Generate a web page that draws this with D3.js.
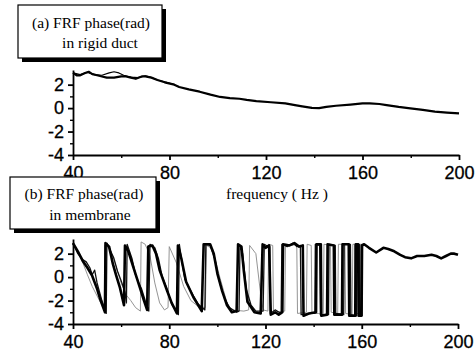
<!DOCTYPE html>
<html>
<head>
<meta charset="utf-8">
<script src="https://cdn.jsdelivr.net/npm/d3@7"></script>
<style>
  body { margin: 0; background: #fff; }
  svg { display: block; }
  .axis path, .axis line { stroke: #000; stroke-width: 1.8; }
  .axis text { font-family: "Liberation Sans", Arial, sans-serif; font-size: 18px; fill: #000; stroke: #000; stroke-width: 0.3; }
  .minor line { stroke-width: 1.4; }
  .lbl { font-family: "Liberation Serif", "Times New Roman", serif; fill: #000; }
</style>
</head>
<body>
<div id="drawing"></div>
<script>
// tick values
var xMajor = [40, 80, 120, 160, 200],
    xMinor = [60, 100, 140, 180],
    yMajor = [-4, -2, 0, 2],
    yMinor = [-3, -1, 1];

// (a) rigid duct, [freq, phase]
var rigidA = [[40,3.0],[41.5,2.8],[43,2.8],[45,3.0],[46.5,3.1],[48,2.9],[50,2.8],[52,2.7],[54,2.6],[57,2.6],[60,2.7],[62,2.7],[64,2.6],[66,2.5],[68.5,2.7],[70,2.7],[72.5,2.6],[75,2.4],[78,2.2],[82,2.0],[84,1.8],[88,1.6],[92.5,1.4],[97,1.15],[101,0.95],[105,0.85],[109,0.8],[112,0.7],[116,0.6],[122,0.5],[128,0.4],[132,0.25],[135,0.15],[139,0.02],[142,0.0],[145,0.1],[149,0.2],[155,0.3],[160,0.4],[163,0.4],[167,0.35],[170,0.25],[175,0.1],[179,0.0],[185,-0.15],[190,-0.3],[195,-0.38],[200,-0.45]];
var rigidB = [[40,3.0],[43,2.85],[46,3.05],[49,2.85],[52,2.8],[55,3.0],[57,3.1],[59,3.0],[61,2.8],[64,2.65],[67,2.6],[70,2.75],[72,2.65],[75,2.4],[78,2.25],[82,2.0]];

// (b) membrane, [freq, phase]
var memA = [[40,2.9],[42,2.2],[44,1.4],[46,0.8],[48,0.1],[50,-1.0],[51.5,-2.0],[53.3,-3.0],[53.5,2.9],[55,2.6],[56.6,1.1],[58,0.1],[59.5,-0.9],[61.2,-2.4],[61.6,2.7],[63,2.2],[65,0.9],[67.8,-0.9],[69.5,-2.0],[70.8,-2.8],[71.3,2.6],[73,2.7],[74.5,2.0],[76,0.6],[79,-1.1],[81,-2.2],[83.2,-3.1],[83.6,2.7],[85,1.6],[87,-0.4],[90,-1.7],[93.5,-2.9],[94.3,2.8],[97,2.8],[98.5,2.0],[100,0.3],[102,-1.2],[104,-2.4],[106,-3.0],[108,-2.9],[108.6,2.8],[110,2.6],[111,0.5],[112.5,-2.1],[115.4,-3.0],[118,-3.1],[118.8,2.8],[120,2.5],[121.5,2.7],[122.2,-3.2],[124,-3.0],[125.5,-3.2],[127,-3.0],[127.3,2.8],[130,2.7],[132,2.9],[134,2.6],[135.5,2.7],[135.8,-3.3],[138,-3.1],[141,-3.0],[141.2,2.8],[143,2.8],[143.2,-3.3],[145.6,-3.2],[145.8,2.8],[148.4,2.7],[148.6,-3.2],[151.8,-3.2],[152,2.8],[154.6,2.8],[154.8,-3.3],[157.3,-3.3],[157.5,2.8],[158.5,2.8],[158.7,-3.3],[159.8,-3.3],[160,2.7],[161,2.8],[163,2.5],[166,2.1],[169,2.5],[171,2.4],[173.5,2.2],[176,1.9],[178,1.7],[180.5,1.6],[183,1.8],[186,1.8],[189,1.9],[191,1.8],[193,1.6],[195,1.8],[197,2.0],[198.5,2.0],[200,1.9]];
var memB = [[40,2.9],[42,2.0],[44,1.5],[45.5,1.3],[47,0.8],[48,0.2],[49,0.6],[50,-0.5],[52,-2.0],[53.8,-3.1],[54.1,2.9],[55.5,2.3],[57,1.6],[58.5,0.5],[60,-0.3],[61.5,-1.2],[62.2,-2.2],[62.5,2.8],[64.5,1.6],[66,0.2],[67.5,-0.6],[68.5,-1.0],[70,-2.0],[71.5,-2.9],[72,2.8],[74,2.5],[75.5,1.6],[77,0.1],[79,-1.0],[81,-2.3],[83.8,-3.2],[84.2,2.8],[85.5,1.0],[86.5,-0.2],[88,-0.8],[90,-1.6],[92,-2.3],[94.8,-2.8],[95.2,2.8],[97,2.7],[99,1.5],[101,-0.5],[103,-1.8],[105,-2.6],[108,-3.0],[109,-2.9],[109.4,2.7],[110.5,2.0],[112,-1.0],[114,-2.4],[116,-2.9],[119,-2.9],[119.5,2.8],[121,2.6],[121.8,2.6],[122.0,-3.1],[124,-2.8],[126.5,-3.1],[126.8,2.8],[129,2.6],[131.5,2.9],[133,2.6],[134.5,2.7],[134.8,-3.2],[139,-3.1],[140.5,-3.1],[140.7,2.8],[142.5,2.7],[142.8,-3.2],[146.2,-3.2],[146.4,2.8],[149,2.7],[149.2,-3.1],[152.5,-3.2],[152.7,2.8],[155.3,2.8],[155.5,-3.2],[157.8,-3.3],[158,2.8],[159,2.8],[159.2,-3.3],[160.2,-3.3],[160.4,2.7],[161,2.8]];
var memC = [[40,2.8],[43,1.8],[46,0.2],[48,-0.8],[51,-2.0],[53,-2.7],[53.2,2.7],[55,2.5],[57,1.5],[60,-0.5],[62,-1.5],[64,-2.0],[66,-2.6],[68,-2.9],[68.3,3.0],[70,2.8],[72,1.8],[74,-0.5],[76,-2.2],[78,-2.8],[79.5,-2.6],[80,2.6],[83,1.2],[86,-0.8],[89,-2.0],[92,-2.5],[95,-2.6],[95.5,2.7],[98,2.4],[101,0.0],[104,-2.2],[106,-2.8],[111,-2.9],[113,-2.8],[113.4,2.7],[116,2.0],[118,-1.5],[119,-2.8],[121,-2.9],[121.3,2.8],[123,2.7],[123.3,-3.0],[128,-2.9],[128.3,2.8],[131,2.7],[133,2.8],[133.3,-3.1],[137,-3.0],[137.3,2.8],[139,2.7],[139.3,-3.1],[142,-3.1],[144,-3.2],[144.3,2.8],[147,2.7],[147.3,-3.0],[150,-3.1],[150.3,2.8],[153,2.8],[153.3,-3.1],[156,-3.2],[156.3,2.8],[157,2.8],[157.2,-3.1],[159,-3.1],[159.3,2.8],[161,2.8]];

var W = 476, H = 357;

var svg = d3.select("#drawing")
  .append("svg")
  .attr("width", W)
  .attr("height", H);

svg.append("rect").attr("width", W).attr("height", H).attr("fill", "#fff");

function panel(x0, x1, yBot, yTop, series) {
  var x = d3.scaleLinear().domain([40, 200]).range([x0, x1]);
  var y = d3.scaleLinear().domain([-4, 3.25]).range([yBot, yTop]);

  var line = d3.line()
    .x(function(d) { return x(d[0]); })
    .y(function(d) { return y(d[1]); });

  series.forEach(function(s) {
    svg.append("path")
      .datum(s.data)
      .attr("fill", "none")
      .attr("stroke", s.color)
      .attr("stroke-width", s.w)
      .attr("stroke-linejoin", "round")
      .attr("d", line);
  });

  // minor ticks first, then the labelled axes
  svg.append("g")
    .attr("class", "axis minor")
    .attr("transform", "translate(0," + yBot + ")")
    .call(d3.axisBottom(x).tickValues(xMinor).tickSize(3).tickSizeOuter(0).tickFormat(""))
    .select(".domain").remove();
  svg.append("g")
    .attr("class", "axis minor")
    .attr("transform", "translate(" + x0 + ",0)")
    .call(d3.axisLeft(y).tickValues(yMinor).tickSize(3).tickSizeOuter(0).tickFormat(""))
    .select(".domain").remove();

  svg.append("g")
    .attr("class", "axis")
    .attr("transform", "translate(0," + yBot + ")")
    .call(d3.axisBottom(x).tickValues(xMajor).tickSize(5).tickSizeOuter(0).tickPadding(6)
      .tickFormat(function(d) { return String(d); }));
  svg.append("g")
    .attr("class", "axis")
    .attr("transform", "translate(" + x0 + ",0)")
    .call(d3.axisLeft(y).tickValues(yMajor).tickSize(5).tickSizeOuter(0).tickPadding(4)
      .tickFormat(function(d) { return String(d); }));
}

panel(73, 459, 155, 70, [
  {data: rigidB, color: "#000", w: 1.2},
  {data: rigidA, color: "#000", w: 2.2}
]);

panel(73, 458, 324, 239, [
  {data: memC, color: "#888", w: 0.9},
  {data: memB, color: "#111", w: 1.3},
  {data: memA, color: "#000", w: 2.6}
]);

// shadowed text boxes
function box(bx, by, bw, bh, lines) {
  svg.append("rect")
    .attr("x", bx + 4).attr("y", by + 4)
    .attr("width", bw).attr("height", bh)
    .attr("fill", "#000");
  svg.append("rect")
    .attr("x", bx).attr("y", by)
    .attr("width", bw).attr("height", bh)
    .attr("fill", "#fff")
    .attr("stroke", "#000")
    .attr("stroke-width", 1.2);
  lines.forEach(function(l) {
    svg.append("text")
      .attr("class", "lbl")
      .attr("x", l.x).attr("y", l.y)
      .attr("text-anchor", "middle")
      .style("font-size", "15.5px")
      .text(l.t);
  });
}

box(18, 5, 144, 53, [
  {t: "(a) FRF phase(rad)", x: 91, y: 28},
  {t: "in rigid duct", x: 100, y: 48}
]);

box(10, 177, 146, 52, [
  {t: "(b) FRF phase(rad)", x: 84, y: 199},
  {t: "in membrane", x: 90, y: 220}
]);

svg.append("text")
  .attr("class", "lbl")
  .attr("x", 277).attr("y", 199)
  .attr("text-anchor", "middle")
  .style("font-size", "15.5px")
  .text("frequency ( Hz )");
</script>
</body>
</html>
